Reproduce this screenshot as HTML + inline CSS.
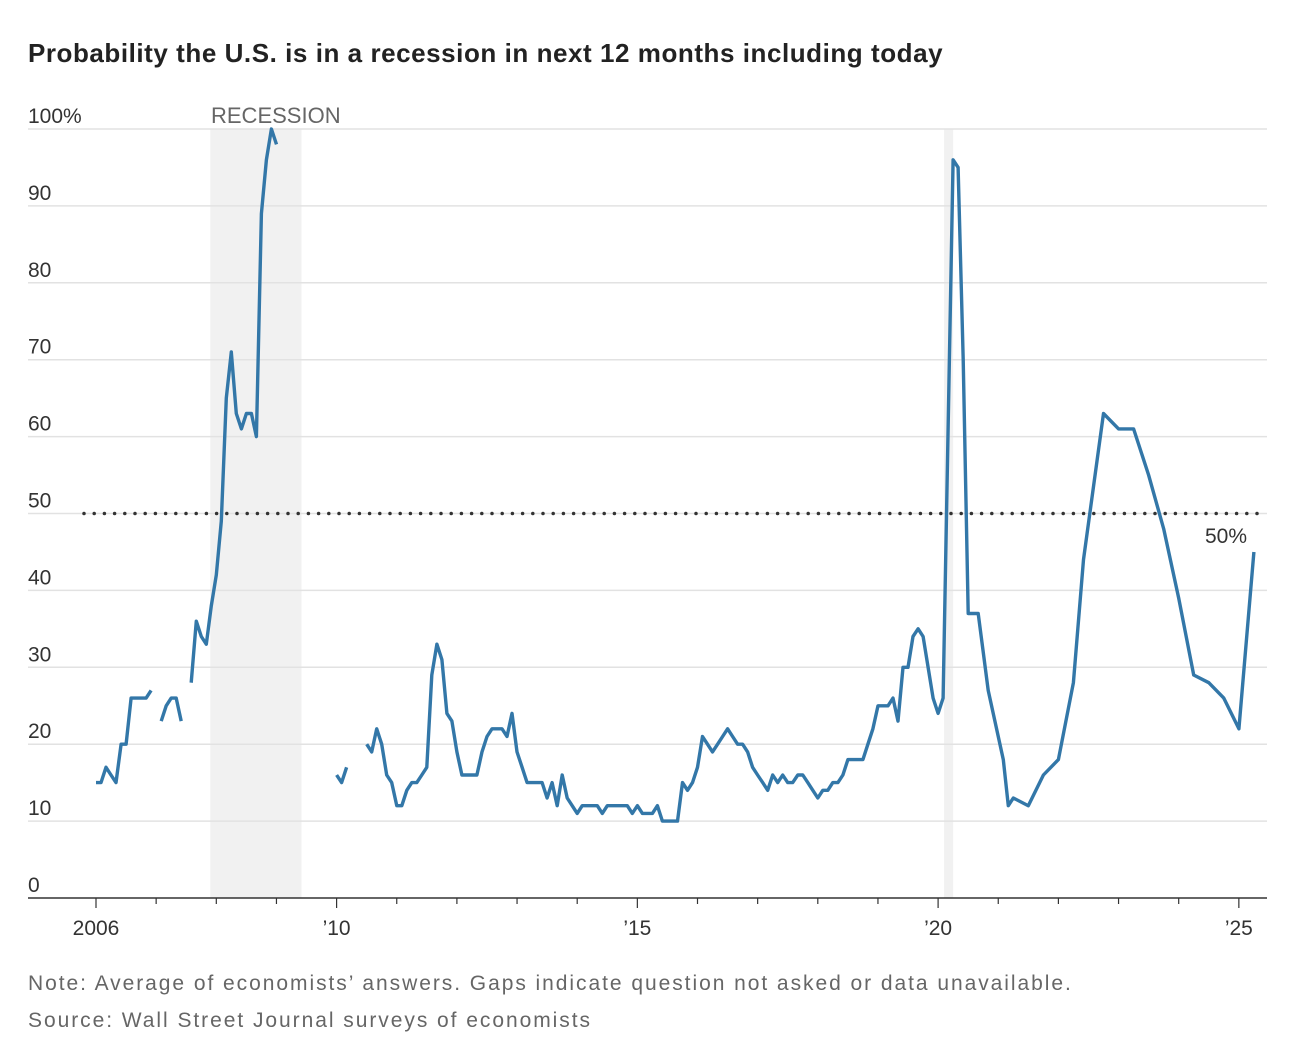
<!DOCTYPE html>
<html><head><meta charset="utf-8"><style>
body{margin:0;background:#fff;font-family:"Liberation Sans",sans-serif}
</style></head><body>
<svg id="chart" width="1300" height="1052" xmlns="http://www.w3.org/2000/svg">
<text x="28" y="62" font-size="26" font-weight="bold" fill="#222" letter-spacing="0.55">Probability the U.S. is in a recession in next 12 months including today</text>
<g id="bg"></g><g id="grid"></g><g id="series"></g>
<text x="28" y="990" font-size="21" fill="#666" letter-spacing="1.95">Note: Average of economists’ answers. Gaps indicate question not asked or data unavailable.</text>
<text x="28" y="1027" font-size="21" fill="#666" letter-spacing="1.95">Source: Wall Street Journal surveys of economists</text>
</svg>
<script>
const yTicks=[0,10,20,30,40,50,60,70,80,90,100];
const xTickYears=[2006,2010,2015,2020,2025];
const xTickLabels=["2006","’10","’15","’20","’25"];
const recessions=[[22.8,41],[169.2,171]]; // months since Jan 2006
const months=[0,1,2,3,4,5,6,7,8,9,10,11,null,13,14,15,16,17,null,
19,20,21,22,23,24,25,26,27,28,29,30,31,32,33,34,35,36,null,48,49,50,null];
const values=[15,15,17,16,15,20,20,26,26,26,26,27,null,23,25,26,26,23,null,
28,36,34,33,38,42,49,65,71,63,61,63,63,60,89,96,100,98,null,16,15,17,null];
const seg5=[20,19,22,20,16,15,12,12,14,15,15,16,17,29,33,31,24,23,19,16,16,16,16,19,21,22,22,22,21,24,19,17,15,15,15,15,13,15,12,16,13,12,11,12,12,12,12,11,12,12,12,12,12,11,12,11,11,11,12,10,10,10,10,
15,14,15,17,21,20,19,20,21,22,21,20,20,19,17,16,15,14,16,15,16,15,15,16,16,15,14,13,14,14,15,15,16,18,18,18,18,20,22,25,25,25,26,23,30,30,34,35,34,30,26,24,26];
seg5.forEach((v,i)=>{months.push(54+i);values.push(v);});
const lateMonths=[171,172,173,174,176,177,178,181,182,183,186,189,192,195,197,201,204,207,210,213,216,219,222,225,228,231];
const lateValues=[96,95,70,37,37,32,27,18,12,13,12,16,18,28,44,63,61,61,55,48,39,29,28,26,22,45];
lateMonths.forEach((m,i)=>{months.push(m);values.push(lateValues[i]);});

const NS="http://www.w3.org/2000/svg";
const X=m=>96+m*5.0125, XY=y=>X((y-2006)*12), Y=v=>898-v*7.69;
function mk(tag,attrs,parent,text){const e=document.createElementNS(NS,tag);for(const k in attrs)e.setAttribute(k,attrs[k]);if(text!==undefined)e.textContent=text;document.getElementById(parent).appendChild(e);return e;}
recessions.forEach(r=>{
 const e=mk('rect',{x:X(r[0]),y:129,width:X(r[1])-X(r[0]),height:769,fill:'#f1f1f1'},'bg');
 
 
});
const rl=mk('text',{x:211,y:123,'font-size':22,fill:'#666'},'bg','RECESSION');


yTicks.forEach(t=>{
 if(t>0){const g=mk('line',{x1:28,x2:1267,y1:Y(t),y2:Y(t),stroke:'#e2e2e2','stroke-width':1.5},'grid');
 
 }
 const l=mk('text',{x:28,y:Y(t)-6,'font-size':21,fill:'#333'},'grid',t===100?'100%':String(t));
 
 
});
const ax=mk('line',{x1:28,x2:1267,y1:898,y2:898,stroke:'#333','stroke-width':1.5},'grid');


for(let y=2006;y<=2025;y++){
 const big=xTickYears.includes(y);
 const t=mk('line',{x1:XY(y),x2:XY(y),y1:898,y2:big?908:904,stroke:'#333','stroke-width':1.2},'grid');
 
 
}
xTickYears.forEach((y,i)=>{
 const l=mk('text',{x:XY(y),y:935,'font-size':21,fill:'#333','text-anchor':'middle'},'grid',xTickLabels[i]);
 
 
});
const fl=mk('line',{x1:84,x2:1267,y1:Y(50),y2:Y(50),stroke:'#333','stroke-width':3.5,'stroke-dasharray':'0 10.2','stroke-linecap':'round'},'series');


const fll=mk('text',{x:1247,y:543,'font-size':21,fill:'#333','text-anchor':'end'},'series','50%');


let d='',pen=false;
months.forEach((m,i)=>{
 if(m===null||values[i]===null){pen=false;return;}
 d+=(pen?'L':'M')+X(m).toFixed(1)+','+Y(values[i]).toFixed(1);pen=true;
});
const p=mk('path',{d:d,fill:'none',stroke:'#3377a8','stroke-width':3.4,'stroke-linejoin':'round'},'series');


</script>
</body></html>
